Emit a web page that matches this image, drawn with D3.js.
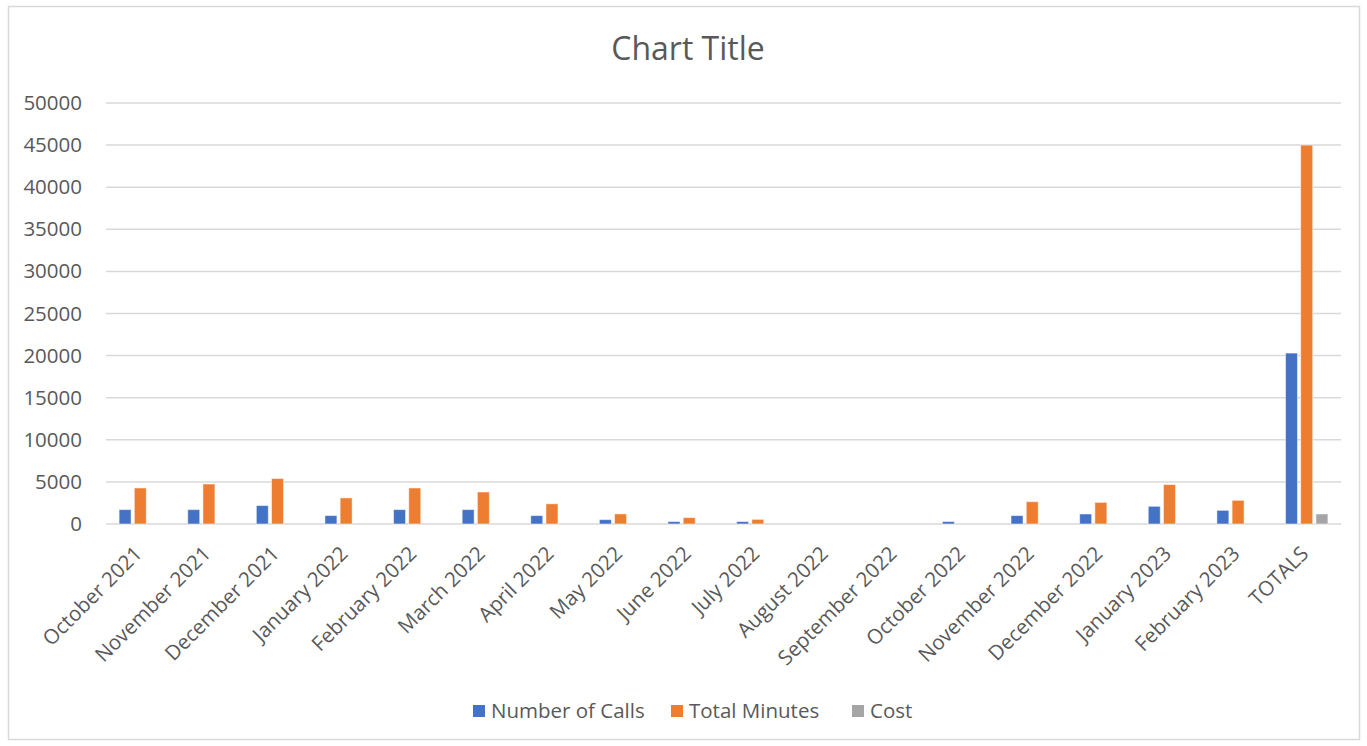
<!DOCTYPE html>
<html>
<head>
<meta charset="utf-8">
<script src="https://cdn.jsdelivr.net/npm/d3@7"></script>
<style>
	body { margin: 0; background: #fff; }
	text { font-family: "Open Sans", "Noto Sans", sans-serif; fill: #595959; }
</style>
</head>
<body>
<svg id="chart" width="1367" height="746"></svg>
<script>
// data
var months = ["October 2021", "November 2021", "December 2021", "January 2022", "February 2022",
	"March 2022", "April 2022", "May 2022", "June 2022", "July 2022", "August 2022",
	"September 2022", "October 2022", "November 2022", "December 2022", "January 2023",
	"February 2023", "TOTALS"];
var numberOfCalls = [1710, 1710, 2190, 1000, 1710, 1710, 1000, 520, 290, 290, 0, 0, 290, 1000, 1190, 2100, 1620, 20300];
var totalMinutes  = [4280, 4750, 5400, 3100, 4280, 3800, 2400, 1200, 760, 550, 0, 0, 0, 2650, 2570, 4680, 2810, 45000];
var cost          = [0, 0, 0, 0, 0, 0, 0, 0, 0, 0, 0, 0, 0, 0, 0, 0, 0, 1190];
var seriesNames = ["Number of Calls", "Total Minutes", "Cost"];
var yTicks = [0, 5000, 10000, 15000, 20000, 25000, 30000, 35000, 40000, 45000, 50000];

var COLORS = ["#4472C4", "#ED7D31", "#A5A5A5"];
var GAP_WIDTH = 2.19, OVERLAP = -0.27;
var FONT_SIZE = "20.5px";

var svg = d3.select("#chart");
var plot = { left: 106, right: 1341, top: 103, bottom: 524 };

// chart area border
svg.append("rect")
	.attr("x", 8.5).attr("y", 6.5)
	.attr("width", 1351).attr("height", 733)
	.attr("fill", "#fff")
	.attr("stroke", "#d9d9d9")
	.attr("stroke-width", 1.5);

// title
svg.append("text")
	.attr("x", 688).attr("y", 60)
	.attr("text-anchor", "middle")
	.style("font-size", "32px")
	.text("Chart Title");

var x = d3.scaleBand().domain(months).range([plot.left, plot.right]).padding(0);
var y = d3.scaleLinear().domain([0, 50000]).range([plot.bottom, plot.top]);

// gridlines
svg.append("g").selectAll("line")
	.data(yTicks)
	.enter().append("line")
	.attr("x1", plot.left).attr("x2", plot.right)
	.attr("y1", function(d) { return y(d); })
	.attr("y2", function(d) { return y(d); })
	.attr("stroke", "#d9d9d9")
	.attr("stroke-width", 1.5);

// y axis labels
var yAxis = d3.axisLeft(y).tickValues(yTicks).tickSize(0).tickPadding(24).tickFormat(d3.format("d"));
var yG = svg.append("g").attr("transform", "translate(" + plot.left + ",0)").call(yAxis);
yG.select(".domain").remove();
yG.selectAll("text").style("font-size", FONT_SIZE).style("fill", "#595959").style("font-family", "\"Open Sans\", sans-serif");

// bars
var bw = x.bandwidth();
var barW = bw / (3 + 2 * (-OVERLAP) + GAP_WIDTH);
var step = barW * (1 - OVERLAP);
var allSeries = [numberOfCalls, totalMinutes, cost];

allSeries.forEach(function(values, si) {
	svg.append("g").selectAll("rect")
		.data(values.map(function(v, i) { return { month: months[i], value: v }; }).filter(function(d) { return d.value > 0; }))
		.enter().append("rect")
		.attr("x", function(d) { return x(d.month) + bw / 2 + (si - 1) * step - barW / 2; })
		.attr("y", function(d) { return y(d.value); })
		.attr("width", barW)
		.attr("height", function(d) { return y(0) - y(d.value); })
		.attr("fill", COLORS[si])
		.attr("stroke", "#fff")
		.attr("stroke-opacity", 0.5)
		.attr("stroke-width", 1);
});

// x axis labels, rotated like excel does
var xAxis = d3.axisBottom(x).tickSize(0).tickPadding(0);
var xG = svg.append("g").attr("transform", "translate(0," + plot.bottom + ")").call(xAxis);
xG.select(".domain").remove();
xG.selectAll("text")
	.style("font-size", FONT_SIZE).style("fill", "#595959").style("font-family", "\"Open Sans\", sans-serif")
	.attr("text-anchor", "end")
	.attr("dy", "0")
	.attr("y", 0)
	.attr("transform", "translate(3,31) rotate(-45)");

// legend
var legendX = [473, 671, 852];
var legend = svg.append("g");
seriesNames.forEach(function(name, i) {
	legend.append("rect")
		.attr("x", legendX[i]).attr("y", 705)
		.attr("width", 12).attr("height", 12)
		.attr("fill", COLORS[i]);
	legend.append("text")
		.attr("x", legendX[i] + 18).attr("y", 718)
		.style("font-size", FONT_SIZE)
		.text(name);
});
</script>
</body>
</html>
